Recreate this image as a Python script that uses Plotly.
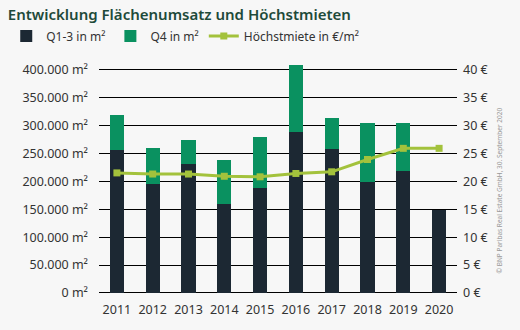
import plotly.graph_objects as go

years = ["2011", "2012", "2013", "2014", "2015", "2016", "2017", "2018", "2019", "2020"]
q13 = [256000, 195000, 231000, 160000, 188000, 289000, 257000, 198000, 218000, 148000]
q4 = [62000, 64000, 43000, 79000, 91000, 119000, 57000, 106000, 86000, 0]
rent = [21.5, 21.3, 21.3, 20.9, 20.8, 21.4, 21.7, 23.9, 25.9, 25.9]

left_ticks = [0, 50000, 100000, 150000, 200000, 250000, 300000, 350000, 400000]
left_labels = ["0 m²", "50.000 m²", "100.000 m²", "150.000 m²", "200.000 m²",
               "250.000 m²", "300.000 m²", "350.000 m²", "400.000 m²"]
right_ticks = [0, 5, 10, 15, 20, 25, 30, 35, 40]
right_labels = [f"{v} €" for v in right_ticks]

navy = "#1c2833"
green = "#0a9160"
lime = "#a3c23c"
bg = "#f7f7f7"
font = "Noto Sans"

fig = go.Figure()
fig.add_trace(go.Bar(x=years, y=q13, name="Q1-3 in m²", marker_color=navy,
                     marker_line_width=0, width=0.4))
fig.add_trace(go.Bar(x=years, y=q4, name="Q4 in m²", marker_color=green,
                     marker_line_width=0, width=0.4))
fig.add_trace(go.Scatter(x=years, y=rent, name="Höchstmiete in €/m²", yaxis="y2",
                         mode="lines+markers",
                         line=dict(color=lime, width=3),
                         marker=dict(symbol="square", size=7, color=lime)))

fig.update_layout(
    width=520, height=330,
    barmode="stack",
    paper_bgcolor=bg, plot_bgcolor=bg,
    margin=dict(l=99, r=63, t=64, b=36, autoexpand=False),
    font=dict(family=font, size=12, color="#333333"),
    title=dict(text="Entwicklung Flächenumsatz und Höchstmieten",
               x=0.015, xanchor="left", xref="container",
               y=1 - 15 / 330, yanchor="middle", yref="container",
               font=dict(family=font, size=15, color="#1e4a3a", weight=600)),
    showlegend=True,
    legend=dict(orientation="h", xref="container", x=0.012, xanchor="left",
                yref="container", y=1 - 36 / 330, yanchor="middle",
                bgcolor="rgba(0,0,0,0)", font=dict(size=12, color="#333333"),
                itemwidth=30, tracegroupgap=0, traceorder="normal"),
    xaxis=dict(showgrid=False, showline=False, ticks="", ticklabelstandoff=6,
               tickfont=dict(size=12.5, color="#333333"),
               range=[-0.5, 9.5]),
    yaxis=dict(range=[-1800, 410000], tickvals=left_ticks, ticktext=left_labels,
               showgrid=True, gridcolor="black", gridwidth=1, layer="below traces",
               zeroline=True, zerolinecolor="black", zerolinewidth=1,
               ticks="", ticklabelstandoff=10,
               tickfont=dict(size=12.5, color="#333333")),
    yaxis2=dict(range=[-0.18, 41], tickvals=right_ticks, ticktext=right_labels,
                overlaying="y", side="right", showgrid=False, zeroline=False,
                ticks="", ticklabelstandoff=5,
                tickfont=dict(size=12.5, color="#333333")),
    bargap=0.6,
)

fig.add_annotation(text="© BNP Paribas Real Estate GmbH, 30. September 2020",
                   xref="paper", yref="paper", x=1.138, y=0.45, textangle=-90,
                   showarrow=False, font=dict(size=6.5, color="#999999"))

fig.write_html("out.html")
